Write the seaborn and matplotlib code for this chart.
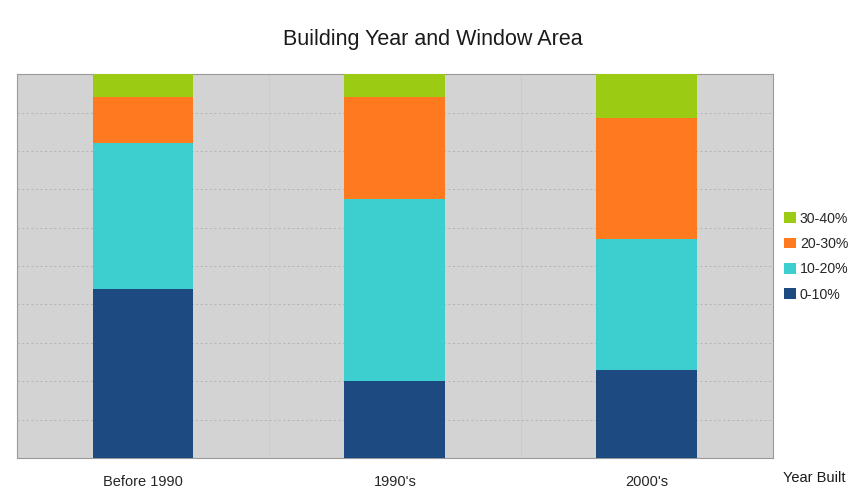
import matplotlib
matplotlib.use("Agg")
import matplotlib.pyplot as plt
import seaborn as sns
import pandas as pd
import numpy as np
from matplotlib.patches import Patch

# Share of buildings (%) in each window-area band, by construction period
periods = ["Before 1990", "1990's", "2000's"]
bands = ["0-10%", "10-20%", "20-30%", "30-40%"]
share_0_10 = [44, 20, 23]
share_10_20 = [38, 47.5, 34]
share_20_30 = [12, 26.5, 31.5]
share_30_40 = [6, 6, 11.5]

colors = {"0-10%": "#1D4A80", "10-20%": "#3DCFCF", "20-30%": "#FF7A1E", "30-40%": "#9CCB13"}

sns.set_theme(style="white")
plt.rcParams["font.family"] = ["Liberation Sans", "DejaVu Sans"]

df = pd.DataFrame({"period": periods, "0-10%": share_0_10, "10-20%": share_10_20,
                   "20-30%": share_20_30, "30-40%": share_30_40})
cum = df[bands].cumsum(axis=1)

fig = plt.figure(figsize=(8.51, 5.01), dpi=100)
ax = fig.add_axes([0.020, 0.086, 0.888, 0.766])
ax.set_facecolor("#D3D3D3")

# Stacked bars: draw cumulative totals from the top band down
for band in reversed(bands):
    sns.barplot(x=df["period"], y=cum[band], color=colors[band], width=0.4,
                saturation=1, ax=ax, zorder=3, edgecolor="none")

ax.set_ylim(0, 100)
ax.set_xlim(-0.5, 2.5)
ax.set_yticks(np.arange(10, 100, 10))
ax.set_yticklabels([])
ax.yaxis.grid(True, linestyle=(0, (2.5, 3)), color="#B0B0B0", linewidth=0.6, zorder=1)
ax.set_xticks([0.5, 1.5], minor=True)
ax.xaxis.grid(True, which="minor", color="#C8C8C8", linewidth=0.5, zorder=1)
ax.tick_params(axis="both", length=0)
ax.tick_params(axis="x", labelsize=10.5, pad=12)
ax.set_xlabel("")
ax.set_ylabel("")
for s in ax.spines.values():
    s.set_color("#9A9A9A")
    s.set_linewidth(0.8)

fig.text(0.509, 0.922, "Building Year and Window Area", ha="center", va="center",
         fontsize=15.5, color="#1a1a1a")
fig.text(0.920, 0.046, "Year Built", ha="left", va="center", fontsize=10.5, color="#1a1a1a")

handles = [Patch(facecolor=colors[b], edgecolor="none", label=b) for b in reversed(bands)]
fig.legend(handles=handles, loc="center left", bbox_to_anchor=(0.915, 0.488),
           frameon=False, fontsize=10.2, handlelength=0.8, handleheight=0.8,
           handletextpad=0.3, labelspacing=0.8, borderaxespad=0)

fig.savefig("out.png", dpi=100)
